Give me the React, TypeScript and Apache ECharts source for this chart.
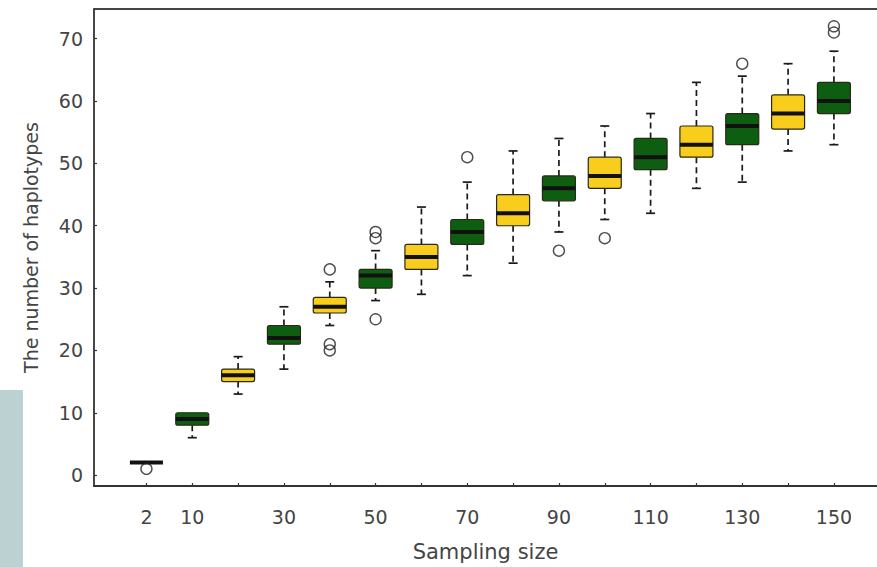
import React, { useEffect, useRef } from 'react';
import * as echarts from 'echarts';

// Sampling sizes (categories on the x axis)
const categories = ['2', '10', '20', '30', '40', '50', '60', '70', '80', '90', '100', '110', '120', '130', '140', '150'];
// Categories whose labels are printed under the axis
const labelledCategories = ['2', '10', '30', '50', '70', '90', '110', '130', '150'];
// Box-plot statistics per category
const lowerWhisker = [2, 6, 13, 17, 24, 28, 29, 32, 34, 39, 41, 42, 46, 47, 52, 53];
const lowerQuartile = [2, 8, 15, 21, 26, 30, 33, 37, 40, 44, 46, 49, 51, 53, 55.5, 58];
const medians = [2, 9, 16, 22, 27, 32, 35, 39, 42, 46, 48, 51, 53, 56, 58, 60];
const upperQuartile = [2, 10, 17, 24, 28.5, 33, 37, 41, 45, 48, 51, 54, 56, 58, 61, 63];
const upperWhisker = [2, 10, 19, 27, 31, 36, 43, 47, 52, 54, 56, 58, 63, 64, 66, 68];
// Outliers
const outlierCategories = ['2', '40', '40', '40', '50', '50', '50', '70', '90', '100', '130', '150', '150'];
const outlierValues = [1, 33, 21, 20, 39, 38, 25, 51, 36, 38, 66, 72, 71];
// Y tick labels
const yTicks = [0, 10, 20, 30, 40, 50, 60, 70];

const GREEN = '#0e5e12';
const YELLOW = '#f9cd1c';
const FONT = 'DejaVu Sans';
const TEXT = '#444';

export default function App() {
  const ref = useRef<HTMLDivElement>(null);

  useEffect(() => {
    if (!ref.current) return;
    const chart = echarts.init(ref.current, null, { renderer: 'svg' });

    const boxData = categories.map((_, i) => [
      i,
      lowerWhisker[i],
      lowerQuartile[i],
      medians[i],
      upperQuartile[i],
      upperWhisker[i],
    ]);
    const outlierData = outlierCategories.map((c, i) => [categories.indexOf(c), outlierValues[i]]);
    const tickIdx = categories.map((_, i) => i);
    const labelIdx = labelledCategories.map((c) => categories.indexOf(c));

    const renderItem = (params: any, api: any) => {
      const x = api.value(0);
      const lo = api.value(1);
      const qa = api.value(2);
      const md = api.value(3);
      const qb = api.value(4);
      const hi = api.value(5);
      const band = api.size([1, 0])[0];
      const w = band * 0.72;
      const sw = 9;
      const pLo = api.coord([x, lo]);
      const pA = api.coord([x, qa]);
      const pM = api.coord([x, md]);
      const pB = api.coord([x, qb]);
      const pHi = api.coord([x, hi]);
      const cx = pM[0];
      const fill = params.dataIndex % 2 === 1 ? GREEN : YELLOW;
      const whiskerStyle = { stroke: '#1a1a1a', lineWidth: 1.7, lineDash: [6, 4] };
      const stapleStyle = { stroke: '#1a1a1a', lineWidth: 1.7 };
      const children: any[] = [];
      if (pHi[1] < pB[1]) {
        children.push({ type: 'line', shape: { x1: cx, y1: pB[1], x2: cx, y2: pHi[1] }, style: whiskerStyle });
        children.push({ type: 'line', shape: { x1: cx - sw / 2, y1: pHi[1], x2: cx + sw / 2, y2: pHi[1] }, style: stapleStyle });
      }
      if (pLo[1] > pA[1]) {
        children.push({ type: 'line', shape: { x1: cx, y1: pA[1], x2: cx, y2: pLo[1] }, style: whiskerStyle });
        children.push({ type: 'line', shape: { x1: cx - sw / 2, y1: pLo[1], x2: cx + sw / 2, y2: pLo[1] }, style: stapleStyle });
      }
      children.push({
        type: 'rect',
        shape: { x: cx - w / 2, y: pB[1], width: w, height: pA[1] - pB[1], r: 2 },
        style: { fill, stroke: '#2a2a14', lineWidth: 1.2 },
      });
      children.push({
        type: 'line',
        shape: { x1: cx - w / 2, y1: pM[1], x2: cx + w / 2, y2: pM[1] },
        style: { stroke: '#111', lineWidth: 4 },
      });
      return { type: 'group', children };
    };

    chart.setOption({
      animation: false,
      backgroundColor: '#fff',
      grid: { left: 94, top: 9, right: 0, bottom: 77, containLabel: false },
      xAxis: {
        type: 'value',
        min: -1.144,
        max: 15.94,
        name: 'Sampling size',
        nameLocation: 'middle',
        nameGap: 55,
        nameTextStyle: { fontFamily: FONT, fontSize: 21, color: TEXT },
        axisLine: { show: true, onZero: false, lineStyle: { color: '#333', width: 1.8 } },
        axisTick: { show: true, inside: true, length: 3, customValues: tickIdx, lineStyle: { color: '#333', width: 1.2 } },
        axisLabel: {
          customValues: labelIdx,
          formatter: (v: number) => categories[Math.round(v)] ?? '',
          margin: 21,
          fontFamily: FONT,
          fontSize: 19,
          color: TEXT,
        },
        splitLine: { show: false },
      },
      yAxis: {
        type: 'value',
        min: -1.75,
        max: 74.77,
        name: 'The number of haplotypes',
        nameLocation: 'middle',
        nameGap: 54,
        nameTextStyle: { fontFamily: FONT, fontSize: 19, color: TEXT },
        axisLine: { show: true, onZero: false, lineStyle: { color: '#333', width: 1.8 } },
        axisTick: { show: true, inside: true, length: 3, customValues: yTicks, lineStyle: { color: '#333', width: 1.2 } },
        axisLabel: {
          customValues: yTicks,
          margin: 11,
          fontFamily: FONT,
          fontSize: 19,
          color: TEXT,
        },
        splitLine: { show: false },
      },
      graphic: [
        {
          type: 'line',
          shape: { x1: 94, y1: 9, x2: 877, y2: 9 },
          style: { stroke: '#444', lineWidth: 1.8 },
          silent: true,
        },
        {
          type: 'rect',
          shape: { x: 0, y: 390, width: 23, height: 177 },
          style: { fill: '#bcd1d1' },
          silent: true,
        },
      ],
      series: [
        {
          type: 'custom',
          renderItem,
          data: boxData,
          encode: { x: 0, y: [1, 2, 3, 4, 5] },
          z: 2,
        },
        {
          type: 'scatter',
          data: outlierData,
          symbol: 'circle',
          symbolSize: 11,
          itemStyle: { color: 'rgba(0,0,0,0)', borderColor: '#222', borderWidth: 1.4 },
          z: 3,
        },
      ],
    });

    return () => chart.dispose();
  }, []);

  return <div ref={ref} style={{ position: 'fixed', left: 0, top: 0, width: 877, height: 567 }} />;
}
